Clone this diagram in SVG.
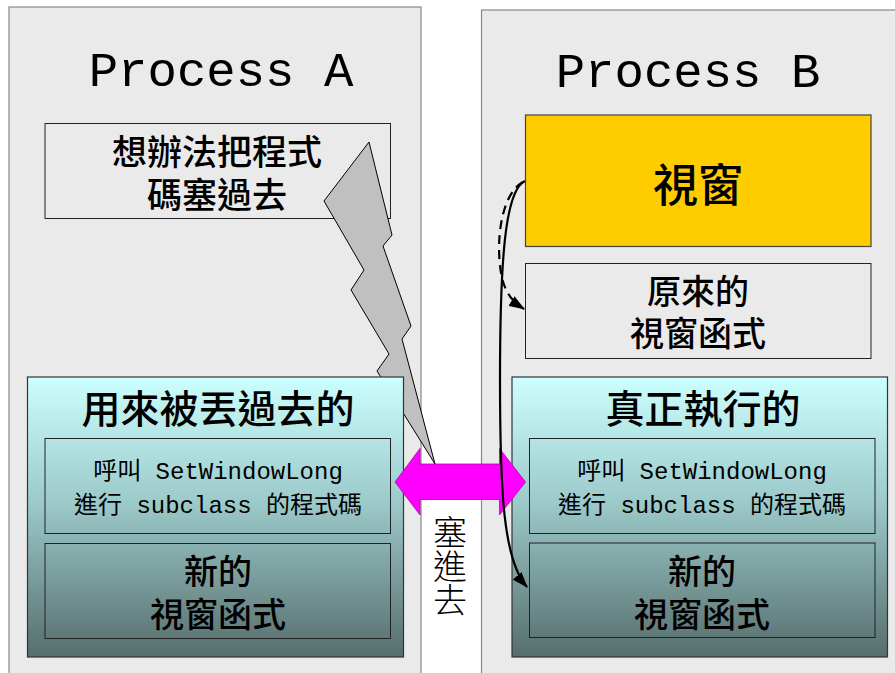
<svg xmlns="http://www.w3.org/2000/svg" width="895" height="673" viewBox="0 0 895 673">
<defs>
<linearGradient id="cyanGrad" x1="0" y1="0" x2="0" y2="1">
<stop offset="0" stop-color="#ccffff"/>
<stop offset="0.45" stop-color="#9cc9c9"/>
<stop offset="1" stop-color="#566d6d"/>
</linearGradient>
<marker id="arrow" viewBox="0 0 14 10" refX="13" refY="5" markerWidth="16" markerHeight="12" markerUnits="userSpaceOnUse" orient="auto">
<path d="M0,0 L14,5 L0,10 Z" fill="#000"/>
</marker>
<style>
.panel{fill:#eaeaea;stroke:#888;stroke-width:1.2}
.box{fill:#eaeaea;stroke:#222;stroke-width:1}
.cyan{fill:url(#cyanGrad);stroke:#333;stroke-width:1.2}
.inner{fill:none;stroke:#222;stroke-width:1}
.title{font-family:"Liberation Mono","Noto Sans CJK TC",monospace;font-size:49px;fill:#000;text-anchor:middle}
.cjk{font-family:"Noto Sans CJK TC","Noto Sans CJK SC",sans-serif;font-weight:500;fill:#000;text-anchor:middle}
.mix{font-family:"Liberation Mono","Noto Sans CJK TC",monospace;font-size:24px;fill:#000;text-anchor:middle}
.conn{fill:none;stroke:#000;stroke-width:2.2}
</style>
</defs>
<rect width="895" height="673" fill="#ffffff"/>

<g id="processA">
<rect class="panel" x="9" y="7" width="412" height="680"/>
<text class="title" x="221" y="86">Process A</text>
</g>

<g id="processB">
<rect class="panel" x="481.5" y="10" width="430" height="680"/>
<text class="title" x="688" y="87">Process B</text>
</g>

<g id="injectIdea">
<rect class="box" x="45" y="123.5" width="345.5" height="95"/>
<text class="cjk" font-size="35" x="217" y="165">想辦法把程式</text>
<text class="cjk" font-size="35" x="217" y="208">碼塞過去</text>
</g>

<g id="lightning">
<polygon points="369,142 392,235 383,246 411,326 402,339 435,464 377,371 389,354 351,290 364,270 324,201" fill="#c0c0c0" stroke="#000" stroke-width="1"/>
</g>

<g id="windowBox">
<rect x="525.5" y="115" width="345.5" height="131.5" fill="#ffcc00" stroke="#444" stroke-width="1.2"/>
<text class="cjk" font-size="45" x="698" y="202">視窗</text>
</g>

<g id="origProc">
<rect class="box" x="525.5" y="263.5" width="345.5" height="95" stroke="#444"/>
<text class="cjk" font-size="34" x="698" y="304">原來的</text>
<text class="cjk" font-size="34" x="698" y="346">視窗函式</text>
</g>

<g id="sentCode">
<rect class="cyan" x="27.5" y="377" width="376" height="280"/>
<text class="cjk" font-size="39" x="218" y="423">用來被丟過去的</text>
<rect class="inner" x="45" y="438.5" width="345.5" height="95"/>
<text class="mix" x="218" y="479">呼叫 SetWindowLong</text>
<text class="mix" x="218" y="513">進行 subclass 的程式碼</text>
<rect class="inner" x="45" y="543.5" width="345.5" height="95"/>
<text class="cjk" font-size="34" x="218" y="584">新的</text>
<text class="cjk" font-size="34" x="218" y="627">視窗函式</text>
</g>

<g id="runCode">
<rect class="cyan" x="512" y="377" width="375.5" height="280"/>
<text class="cjk" font-size="39" x="703" y="423">真正執行的</text>
<rect class="inner" x="529.5" y="438.5" width="345.5" height="95"/>
<text class="mix" x="702" y="479">呼叫 SetWindowLong</text>
<text class="mix" x="702" y="513">進行 subclass 的程式碼</text>
<rect class="inner" x="529.5" y="543" width="345.5" height="94.5"/>
<text class="cjk" font-size="34" x="702" y="584">新的</text>
<text class="cjk" font-size="34" x="702" y="627">視窗函式</text>
</g>

<g id="injectArrow">
<polygon points="395,482 420,448.5 420,464 499.5,464 499.5,448.5 525.5,482 499.5,515 499.5,499.5 420,499.5 420,515" fill="#ff00ff" stroke="#b000b0" stroke-width="0.8"/>
<text x="450" y="515" font-family="Noto Sans CJK TC, Noto Sans CJK SC, sans-serif" font-size="34" font-weight="300" fill="#000" style="writing-mode:vertical-rl;text-orientation:upright">塞進去</text>
</g>

<g id="connectors">
<path class="conn" d="M525,181 C505,190 500,260 500,380 C500,490 503,560 527,587" marker-end="url(#arrow)"/>
<path class="conn" d="M523,182 C500,195 495,245 502,278 C506,294 513,302 524,309" stroke-dasharray="9,6" marker-end="url(#arrow)"/>
</g>
</svg>
